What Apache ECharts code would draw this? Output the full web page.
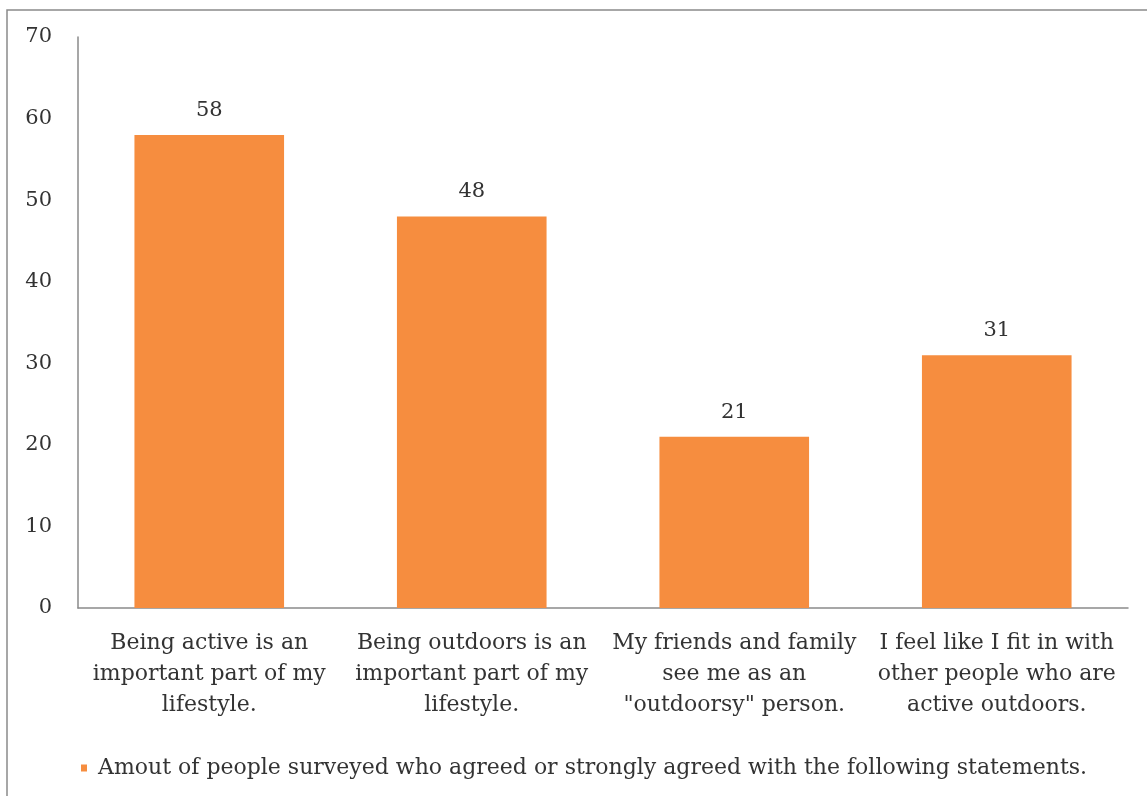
<!DOCTYPE html>
<html>
<head>
<meta charset="utf-8">
<script src="https://cdn.jsdelivr.net/npm/echarts@6/dist/echarts.min.js"></script>
<style>
  html, body { margin: 0; padding: 0; background: #fff; }
  #chart { width: 1147px; height: 796px; }
</style>
</head>
<body>
<div id="chart"></div>
<script>
const categories = [
  'Being active is an\nimportant part of my\nlifestyle.',
  'Being outdoors is an\nimportant part of my\nlifestyle.',
  'My friends and family\nsee me as an\n"outdoorsy" person.',
  'I feel like I fit in with\nother people who are\nactive outdoors.'
]
const agreedValues = [58, 48, 21, 31]
const seriesName = 'Amout of people surveyed who agreed or strongly agreed with the following statements.'

const font = "'DejaVu Serif', 'Liberation Serif', serif"
const textColor = '#333'

const chart = echarts.init(document.getElementById('chart'))

chart.setOption({
  animation: false,
  backgroundColor: '#fff',
  textStyle: { fontFamily: font },
  graphic: [
    {
      type: 'polyline',
      shape: { points: [[7, 796], [7, 10], [1147, 10]] },
      style: { stroke: '#8a8a8a', lineWidth: 1.5, fill: null },
    },
  ],
  grid: {
    left: 78,
    right: 19,
    top: 37,
    bottom: 188,
  },
  legend: {
    data: [seriesName],
    left: 76,
    top: 752,
    icon: 'rect',
    itemWidth: 6,
    itemHeight: 7,
    itemGap: 4,
    textStyle: { fontFamily: font, fontSize: 22, color: textColor, padding: [0, 0, 0, 6] },
  },
  xAxis: {
    type: 'category',
    data: categories,
    axisLine: { lineStyle: { color: '#8a8a8a', width: 1.5 } },
    axisTick: { show: false },
    axisLabel: {
      interval: 0,
      margin: 20,
      fontFamily: font,
      fontSize: 22,
      lineHeight: 31,
      color: textColor,
      align: 'center',
    },
  },
  yAxis: {
    type: 'value',
    min: 0,
    max: 70,
    interval: 10,
    axisLine: { show: true, lineStyle: { color: '#8a8a8a', width: 1.5 } },
    axisTick: { show: false },
    splitLine: { show: false },
    axisLabel: {
      margin: 26,
      fontFamily: font,
      fontSize: 21,
      color: textColor,
    },
  },
  series: [
    {
      name: seriesName,
      type: 'bar',
      data: agreedValues,
      barWidth: '57%',
      itemStyle: { color: '#F68D3F' },
      label: {
        show: true,
        position: 'top',
        distance: 14,
        fontFamily: font,
        fontSize: 21,
        color: textColor,
      },
    },
  ],
})
</script>
</body>
</html>
